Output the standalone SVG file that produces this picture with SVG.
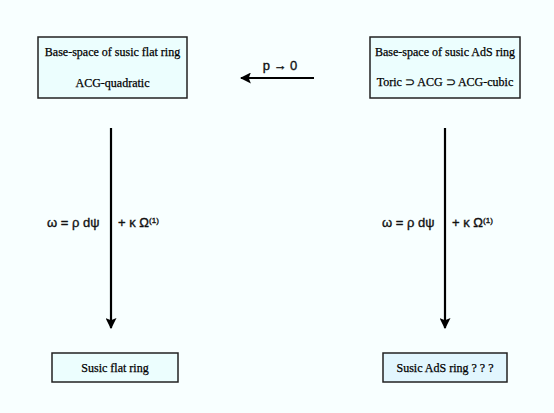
<svg xmlns="http://www.w3.org/2000/svg" width="554" height="413" viewBox="0 0 554 413">
<style>
.box{fill:#ECFEFE;stroke:#222;stroke-width:1.5}
.box2{fill:#E2F6FE;stroke:#222;stroke-width:1.5}
.t{font-family:"Liberation Serif",serif;font-size:12px;fill:#000;stroke:#000;stroke-width:0.25;text-anchor:middle}
.f{font-family:"Liberation Sans",Arial,sans-serif;font-size:13px;fill:#111;stroke:#111;stroke-width:0.35}
.sup{font-size:8px}
.ln{stroke:#000;stroke-width:2.2;fill:none}
</style>
<defs>
<marker id="ah" viewBox="0 0 10 10" refX="9" refY="5" markerWidth="5" markerHeight="5" orient="auto" markerUnits="strokeWidth">
<path d="M0,0 L10,5 L0,10 L2,5 Z" fill="#000"/>
</marker>
</defs>
<rect width="554" height="413" fill="#F8FFFF"/>
<g id="connectors">
<line class="ln" x1="314" y1="78" x2="241" y2="78" marker-end="url(#ah)"/>
<text class="f" x="280" y="70" text-anchor="middle">p → 0</text>
<line class="ln" x1="111" y1="128" x2="111" y2="328" marker-end="url(#ah)"/>
<text class="f" x="47" y="227">ω = ρ dψ</text>
<text class="f" x="118" y="227">+ κ Ω<tspan class="sup" dy="-4">(1)</tspan></text>
<line class="ln" x1="445" y1="128" x2="445" y2="328" marker-end="url(#ah)"/>
<text class="f" x="382" y="227">ω = ρ dψ</text>
<text class="f" x="452" y="227">+ κ Ω<tspan class="sup" dy="-4">(1)</tspan></text>
</g>
<g id="n1">
<rect class="box" x="38" y="37" width="149" height="61"/>
<text class="t" x="112.5" y="56">Base-space of susic flat ring</text>
<text class="t" x="112.5" y="87">ACG-quadratic</text>
</g>
<g id="n2">
<rect class="box" x="370" y="37" width="150" height="61"/>
<text class="t" x="445" y="56">Base-space of susic AdS ring</text>
<text class="t" x="445" y="86">Toric ⊃ ACG ⊃ ACG-cubic</text>
</g>
<g id="n3">
<rect class="box" x="52" y="353" width="126" height="29"/>
<text class="t" x="115" y="372">Susic flat ring</text>
</g>
<g id="n4">
<rect class="box2" x="383" y="353" width="124" height="29"/>
<text class="t" x="445" y="372">Susic AdS ring ? ? ?</text>
</g>
</svg>
